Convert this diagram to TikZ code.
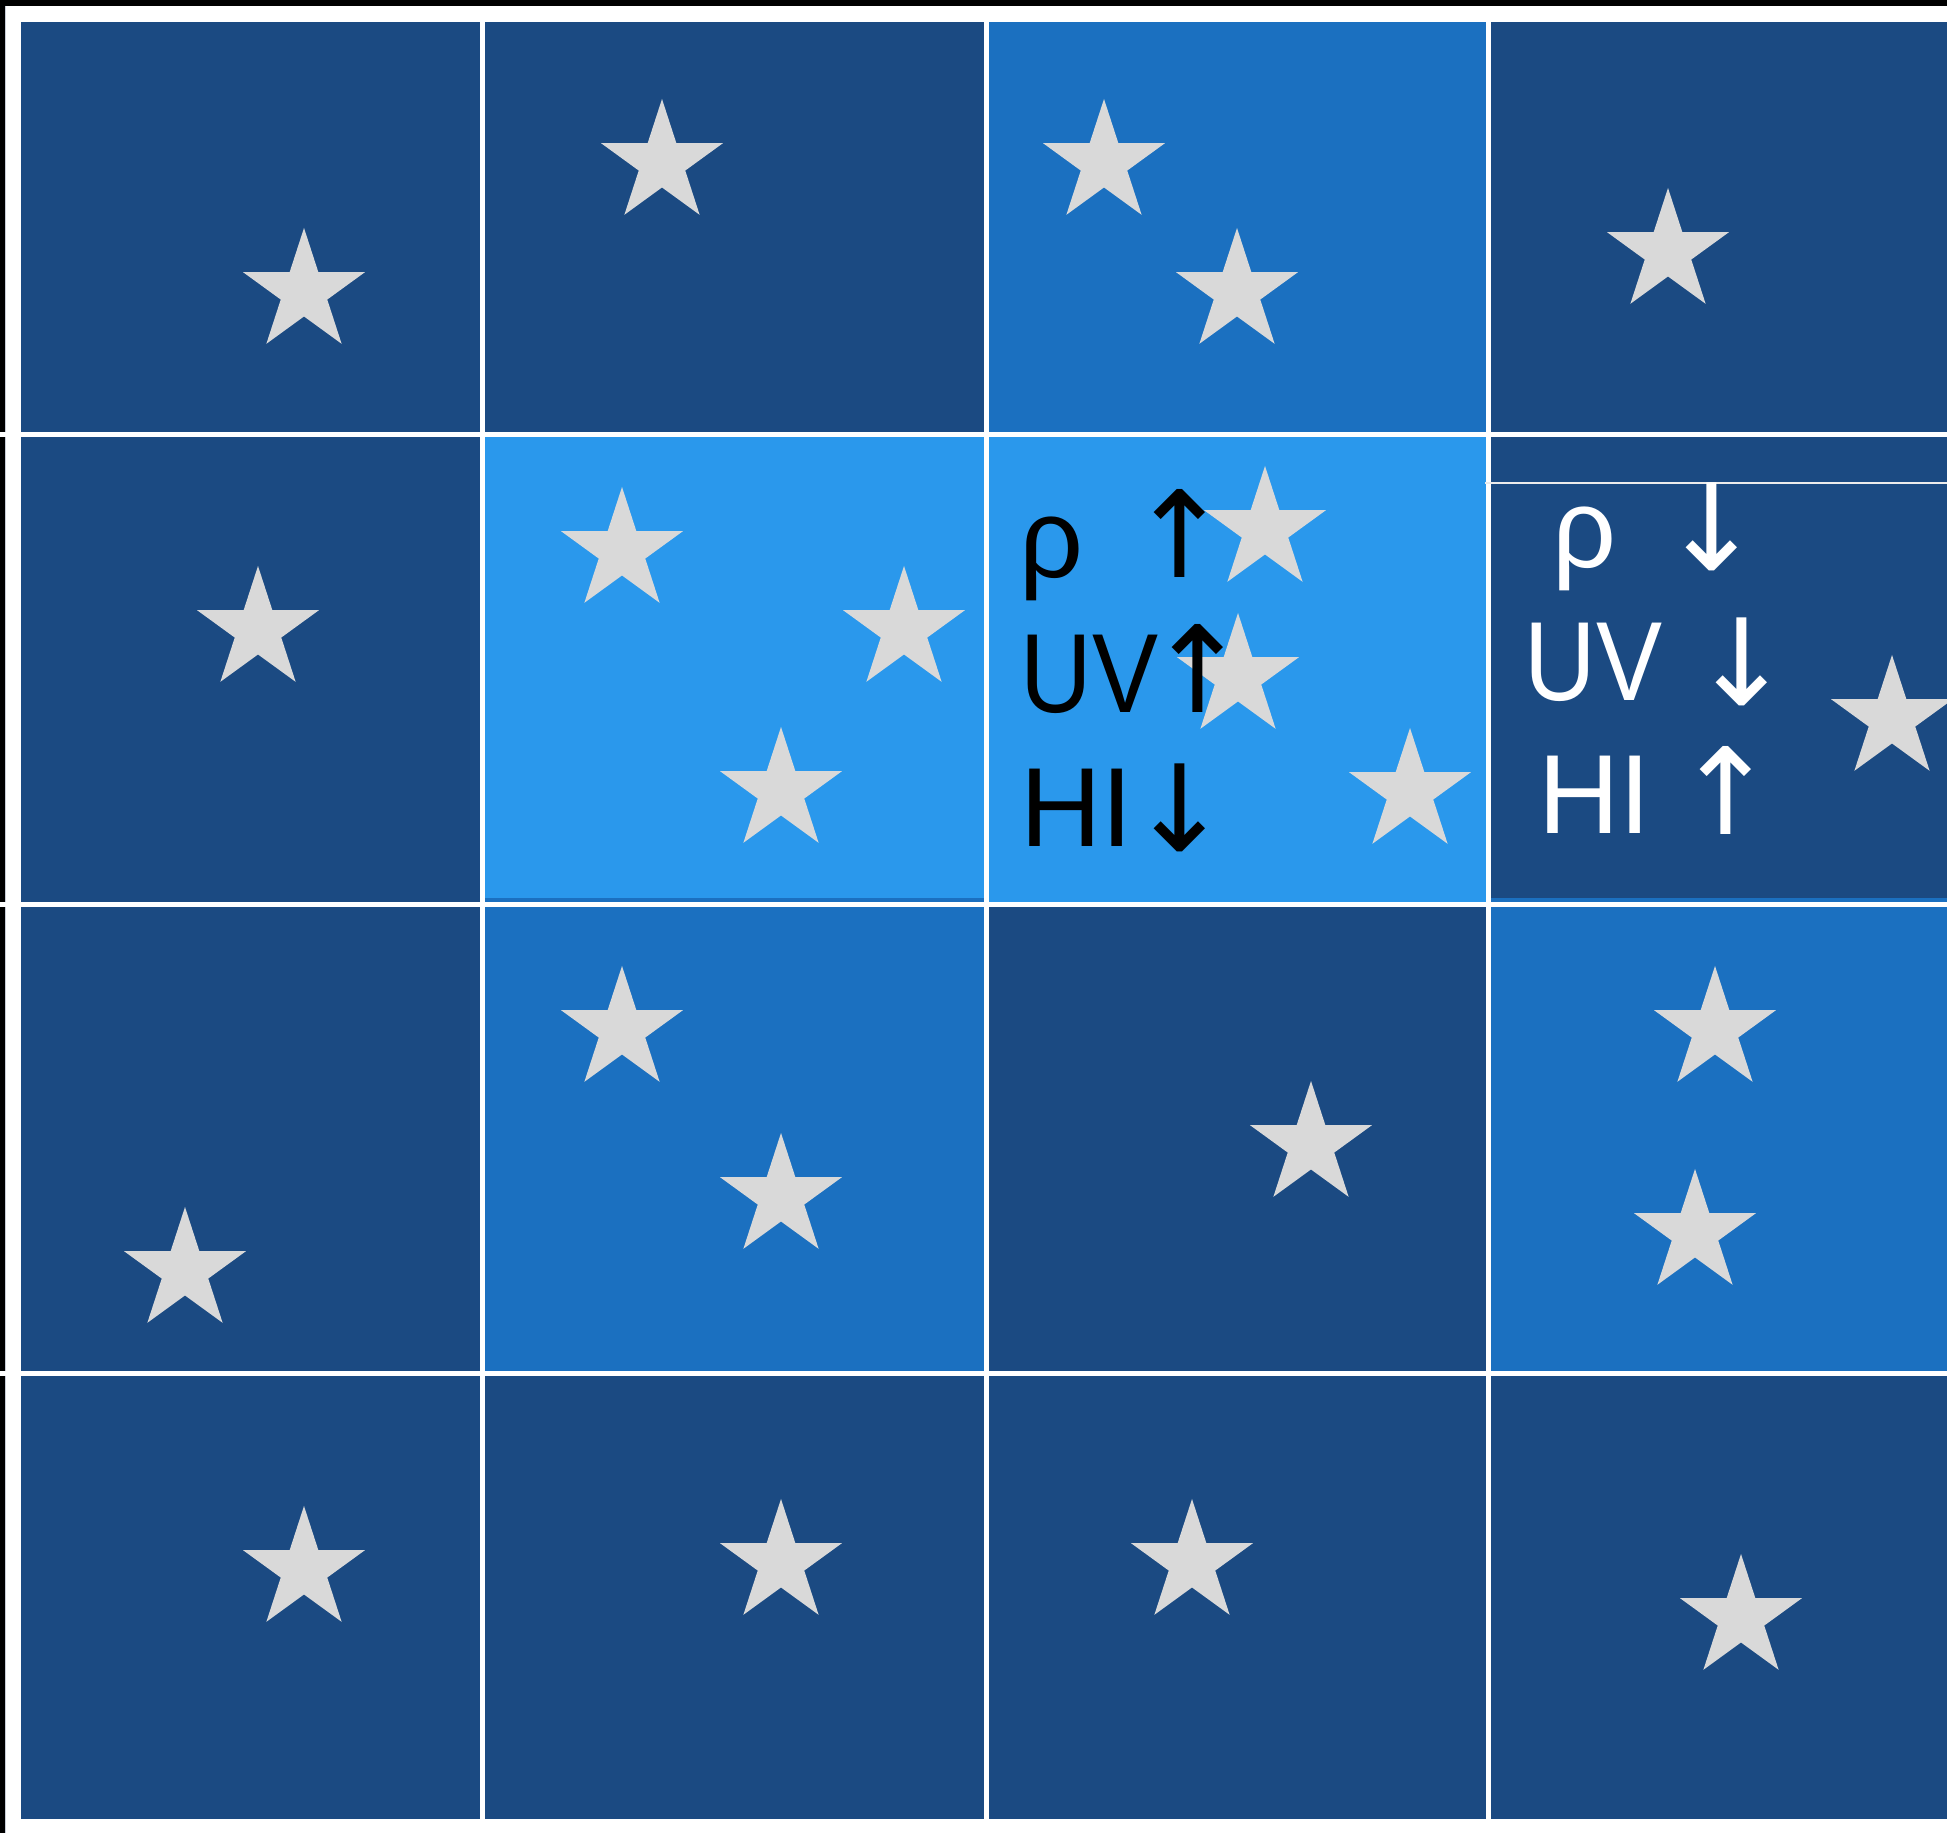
\documentclass[tikz,border=0pt]{standalone}
\usepackage{fontspec}
\setmainfont{Liberation Sans}
\newfontfamily\arrowfont{DejaVu Sans}
\usepackage{tikz}
\usetikzlibrary{shapes.geometric}
\definecolor{cellnavy}{RGB}{27, 74, 130}
\definecolor{cellmid}{RGB}{27, 112, 192}
\definecolor{celllight}{RGB}{42, 152, 236}
\definecolor{stargray}{RGB}{217, 217, 217}
\definecolor{edgegray}{RGB}{200, 205, 215}
\newcommand{\narrowuv}{\scalebox{0.88}[1]{UV}}
\newcommand{\bigarrow}[1]{\resizebox*{!}{0.88cm}{\arrowfont #1}}

\begin{document}
\begin{tikzpicture}[x=0.01cm, y=-0.01cm,
    starnode/.style={star, star points=5, star point ratio=2.618, fill=stargray, inner sep=0pt, minimum size=1.28cm},
    lbl/.style={inner sep=0pt, font=\fontsize{32}{38}\selectfont},
    arr/.style={inner sep=0pt, font=\fontsize{32}{38}\selectfont}]
  \useasboundingbox (0,0) rectangle (1947,1833);
  \fill[white] (0,0) rectangle (1947,1833);
  \fill[black] (0,0) rectangle (1947,6);
  \fill[black] (0,0) rectangle (5,1833);
  \draw[edgegray, line width=0.4pt] (5.5,6) -- (5.5,1833);
  \fill[white] (0,432) rectangle (21,437);
  \fill[white] (0,902) rectangle (21,907);
  \fill[white] (0,1371) rectangle (21,1376);

  % row 1
  \fill[cellnavy] (21,22) rectangle (480,432);
  \fill[cellnavy] (485,22) rectangle (984,432);
  \fill[cellmid] (989,22) rectangle (1486,432);
  \fill[cellnavy] (1491,22) rectangle (1947,432);
  % row 2
  \fill[cellnavy] (21,437) rectangle (480,902);
  \fill[celllight] (485,437) rectangle (984,902);
  \fill[celllight] (989,437) rectangle (1486,902);
  \fill[cellnavy] (1491,437) rectangle (1947,902);
  \fill[cellmid] (485,898) rectangle (984,902);
  \fill[cellmid] (1491,898) rectangle (1947,902);
  \draw[white!85!gray, line width=0.3pt] (1485,483) -- (1947,483);
  % row 3
  \fill[cellnavy] (21,907) rectangle (480,1371);
  \fill[cellmid] (485,907) rectangle (984,1371);
  \fill[cellnavy] (989,907) rectangle (1486,1371);
  \fill[cellmid] (1491,907) rectangle (1947,1371);
  % row 4
  \fill[cellnavy] (21,1376) rectangle (480,1819);
  \fill[cellnavy] (485,1376) rectangle (984,1819);
  \fill[cellnavy] (989,1376) rectangle (1486,1819);
  \fill[cellnavy] (1491,1376) rectangle (1947,1819);

  % stars
  \node[starnode] (s1) at (304,292) {};
  \node[starnode] (s2) at (662,163) {};
  \node[starnode] (s3) at (1104,163) {};
  \node[starnode] (s4) at (1237,292) {};
  \node[starnode] (s5) at (1668,252) {};
  \node[starnode] (s6) at (258,630) {};
  \node[starnode] (s7) at (622,551) {};
  \node[starnode] (s8) at (904,630) {};
  \node[starnode] (s9) at (781,791) {};
  \node[starnode] (s10) at (1265,530) {};
  \node[starnode] (s11) at (1238,677) {};
  \node[starnode] (s12) at (1410,792) {};
  \node[starnode] (s13) at (1892,719) {};
  \node[starnode] (s14) at (622,1030) {};
  \node[starnode] (s15) at (781,1197) {};
  \node[starnode] (s16) at (185,1271) {};
  \node[starnode] (s17) at (1311,1145) {};
  \node[starnode] (s18) at (1715,1030) {};
  \node[starnode] (s19) at (1695,1233) {};
  \node[starnode] (s20) at (304,1570) {};
  \node[starnode] (s21) at (781,1563) {};
  \node[starnode] (s22) at (1192,1563) {};
  \node[starnode] (s23) at (1741,1618) {};

  % labels, middle cell
  \node[lbl, anchor=base west] (rho-mid) at (1019,577) {ρ};
  \node[lbl, anchor=base west] (uv-mid) at (1020,712) {\narrowuv};
  \node[lbl, anchor=base west] (hi-mid) at (1020,846) {HI};
  \node[arr] (rho-mid-arr) at (1180,533) {\bigarrow{↑}};
  \node[arr] (uv-mid-arr) at (1198,668) {\bigarrow{↑}};
  \node[arr] (hi-mid-arr) at (1180,808) {\bigarrow{↓}};
  % labels, right cell
  \node[lbl, white, anchor=base west] (rho-right) at (1552,567) {ρ};
  \node[lbl, white, anchor=base west] (uv-right) at (1524,700) {\narrowuv};
  \node[lbl, white, anchor=base west] (hi-right) at (1538,833) {HI};
  \node[arr, white] (rho-right-arr) at (1712,527) {\bigarrow{↓}};
  \node[arr, white] (uv-right-arr) at (1742,662) {\bigarrow{↓}};
  \node[arr, white] (hi-right-arr) at (1726,790) {\bigarrow{↑}};
\end{tikzpicture}
\end{document}
